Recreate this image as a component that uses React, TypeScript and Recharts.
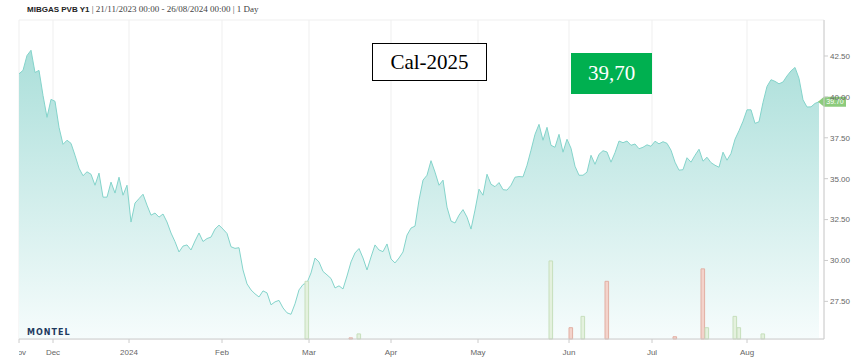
import React from 'react';
import {
  ComposedChart, Area, Bar, Cell, XAxis, YAxis, CartesianGrid, ReferenceLine
} from 'recharts';

// daily settlement, one value per trading day from 21/11/2023 to 26/08/2024
const prices = [
  41.41, 41.62, 42.53, 42.85, 41.49, 41.62, 40.09, 38.75, 39.85, 39.73,
  38.14, 37.10, 37.35, 37.16, 36.43, 35.64, 35.18, 35.42, 35.27, 34.60,
  35.34, 33.87, 33.87, 34.79, 34.12, 35.09, 33.99, 34.60, 32.35, 33.51,
  33.78, 34.05, 33.38, 32.77, 32.90, 32.65, 32.84, 32.35, 31.68, 31.15,
  30.52, 30.88, 30.95, 30.64, 31.19, 31.68, 31.16, 31.34, 31.43, 31.92,
  32.16, 31.92, 31.65, 30.84, 30.74, 30.78, 29.42, 28.57, 28.20, 27.96,
  27.77, 28.14, 28.02, 27.29, 27.47, 27.56, 27.10, 26.80, 26.71, 27.35,
  28.20, 28.53, 28.63, 29.24, 30.15, 29.91, 29.33, 29.12, 28.90, 28.32,
  28.45, 28.26, 29.05, 29.91, 30.46, 30.73, 30.15, 29.42, 30.21, 30.95,
  30.64, 30.54, 31.01, 30.09, 29.85, 30.15, 30.52, 31.55, 31.98, 32.10,
  33.69, 34.91, 35.21, 36.10, 35.40, 34.60, 34.91, 33.26, 32.41, 32.29,
  32.77, 33.11, 32.65, 31.92, 33.08, 34.36, 33.99, 35.27, 34.66, 34.51,
  34.76, 34.33, 34.30, 34.60, 35.09, 35.13, 35.11, 35.82, 36.74, 37.71,
  38.32, 37.35, 38.14, 37.04, 36.92, 37.71, 36.62, 37.41, 36.86, 35.76,
  35.21, 35.21, 35.40, 36.43, 35.88, 36.49, 36.71, 36.63, 36.01, 36.59,
  37.30, 37.20, 37.30, 37.04, 37.12, 36.83, 36.92, 37.07, 36.98, 37.29,
  37.13, 37.26, 37.16, 36.74, 36.01, 35.52, 35.55, 36.28, 36.01, 36.43,
  36.80, 36.07, 36.31, 35.98, 35.82, 35.70, 36.62, 36.13, 36.54, 37.41,
  37.93, 38.51, 39.21, 39.21, 38.38, 38.48, 39.66, 40.64, 41.05, 40.95,
  40.80, 40.91, 41.28, 41.59, 41.80, 41.13, 39.82, 39.38, 39.39, 39.60,
  39.70,
];

// traded volume (index of trading day, size, side)
const volumeDays = [72, 83, 85, 133, 138, 141, 147, 164, 171, 172, 179, 180, 186];
const volumeValues = [5.1, 0.1, 0.45, 6.9, 1, 2, 5.1, 0.2, 6.2, 1, 2, 1, 0.45];
const volumeSide = ['buy', 'sell', 'buy', 'buy', 'sell', 'buy', 'sell', 'sell', 'sell', 'buy', 'buy', 'buy', 'buy'];

const monthTicks = [0, 8.5, 27.5, 50.75, 72.5, 93, 114.75, 137.5, 158.25, 182];
const monthLabels = ['Nov', 'Dec', '2024', 'Feb', 'Mar', 'Apr', 'May', 'Jun', 'Jul', 'Aug'];
const priceTicks = [27.5, 30, 32.5, 35, 37.5, 40, 42.5];

const data = prices.map((price, day) => {
  const v = volumeDays.indexOf(day);
  return {
    day,
    price,
    volume: v >= 0 ? volumeValues[v] : undefined,
    side: v >= 0 ? volumeSide[v] : undefined,
  };
});

const lastPrice = prices[prices.length - 1];

const MonthTick = (props: any) => {
  const { x, y, payload } = props;
  const label = monthLabels[monthTicks.indexOf(payload.value)];
  const text = (
    <text x={0} y={0} dy={10} textAnchor="middle" fontSize={8} fill="#666"
      fontFamily="'Liberation Sans', Arial, sans-serif">{label}</text>
  );
  if (payload.value === 0) {
    // first label is cut by the left edge of the chart
    return (
      <svg x={x} y={y} width={20} height={14} overflow="hidden">
        {text}
      </svg>
    );
  }
  return <g transform={`translate(${x},${y})`}>{text}</g>;
};

const PriceTag = (props: any) => {
  const { viewBox } = props;
  if (!viewBox) return null;
  const x = viewBox.x + viewBox.width;
  const y = viewBox.y;
  return (
    <g>
      <polygon
        points={`${x - 6},${y} ${x},${y - 5} ${x + 22},${y - 5} ${x + 22},${y + 5} ${x},${y + 5}`}
        fill="#8ccb7c"
      />
      <text x={x + 11} y={y + 2.5} textAnchor="middle" fontSize={7} fill="#fff"
        fontFamily="'Liberation Sans', Arial, sans-serif">
        {lastPrice.toFixed(2)}
      </text>
    </g>
  );
};

export default function App() {
  return (
    <div style={{ position: 'absolute', left: 0, top: 0, width: 854, height: 357, background: '#fff' }}>
      {/* title */}
      <div style={{ position: 'absolute', left: 27, top: 4, fontSize: 9, whiteSpace: 'nowrap', color: '#222' }}>
        <span style={{ fontFamily: "'Liberation Sans', Arial, sans-serif", fontWeight: 700, fontSize: 8 }}>MIBGAS PVB Y1</span>
        <span style={{ fontFamily: "'Liberation Serif', serif", color: '#444' }}> | 21/11/2023 00:00 - 26/08/2024 00:00 | 1 Day</span>
      </div>

      <ComposedChart
        width={854}
        height={357}
        data={data}
        margin={{ top: 20, right: 0, bottom: 0, left: 19 }}
      >
        <defs>
          <linearGradient id="priceFill" x1="0" y1="0" x2="0" y2="1">
            <stop offset="0%" stopColor="#abdfda" stopOpacity={1} />
            <stop offset="100%" stopColor="#f6fcfc" stopOpacity={1} />
          </linearGradient>
        </defs>
        <CartesianGrid stroke="#efefef" />
        <XAxis
          dataKey="day"
          type="number"
          domain={[0, 201.25]}
          ticks={monthTicks}
          interval={0}
          height={18}
          tick={<MonthTick />}
          tickSize={4}
          tickLine={{ stroke: '#ccc' }}
          axisLine={{ stroke: '#ccc' }}
          allowDataOverflow
        />
        <YAxis
          yAxisId="price"
          orientation="right"
          width={30}
          domain={[25.2, 44.7]}
          ticks={priceTicks}
          interval={0}
          allowDataOverflow
          tickFormatter={(v: number) => v.toFixed(2)}
          tick={{ fontSize: 8, fill: '#666', fontFamily: "'Liberation Sans', Arial, sans-serif" }}
          tickSize={4}
          tickMargin={2}
          tickLine={{ stroke: '#ccc' }}
          axisLine={{ stroke: '#ccc' }}
        />
        <YAxis yAxisId="vol" hide domain={[0, 28.2]} />
        <Area
          yAxisId="price"
          type="linear"
          dataKey="price"
          stroke="#84d4cb"
          strokeWidth={1}
          fill="url(#priceFill)"
          fillOpacity={1}
          dot={false}
          activeDot={false}
          isAnimationActive={false}
        />
        <Bar yAxisId="vol" dataKey="volume" barSize={4} isAnimationActive={false}>
          {data.map((d) => (
            <Cell
              key={d.day}
              fill={d.side === 'sell' ? '#f3d3cb' : '#e4f1de'}
              stroke={d.side === 'sell' ? '#e2afa3' : '#c6dfbc'}
              strokeWidth={1}
            />
          ))}
        </Bar>
        <ReferenceLine yAxisId="price" y={lastPrice} stroke="none" label={<PriceTag />} ifOverflow="visible" />
      </ComposedChart>

      {/* logo */}
      <div style={{
        position: 'absolute', left: 27, top: 328, fontSize: 8, fontWeight: 700, letterSpacing: 1,
        color: '#1f3a5f', fontFamily: "'DejaVu Sans', sans-serif",
      }}>MONTEL</div>

      {/* annotations */}
      <div style={{
        position: 'absolute', left: 372, top: 43, width: 113, height: 36, border: '1px solid #000',
        background: '#fff', display: 'flex', alignItems: 'center', justifyContent: 'center',
        fontFamily: "'Liberation Serif', serif", fontSize: 21, color: '#000',
      }}>Cal-2025</div>
      <div style={{
        position: 'absolute', left: 571, top: 53, width: 81, height: 41, background: '#00b050',
        display: 'flex', alignItems: 'center', justifyContent: 'center',
        fontFamily: "'Liberation Serif', serif", fontSize: 21, color: '#fff',
      }}>39,70</div>
    </div>
  );
}
